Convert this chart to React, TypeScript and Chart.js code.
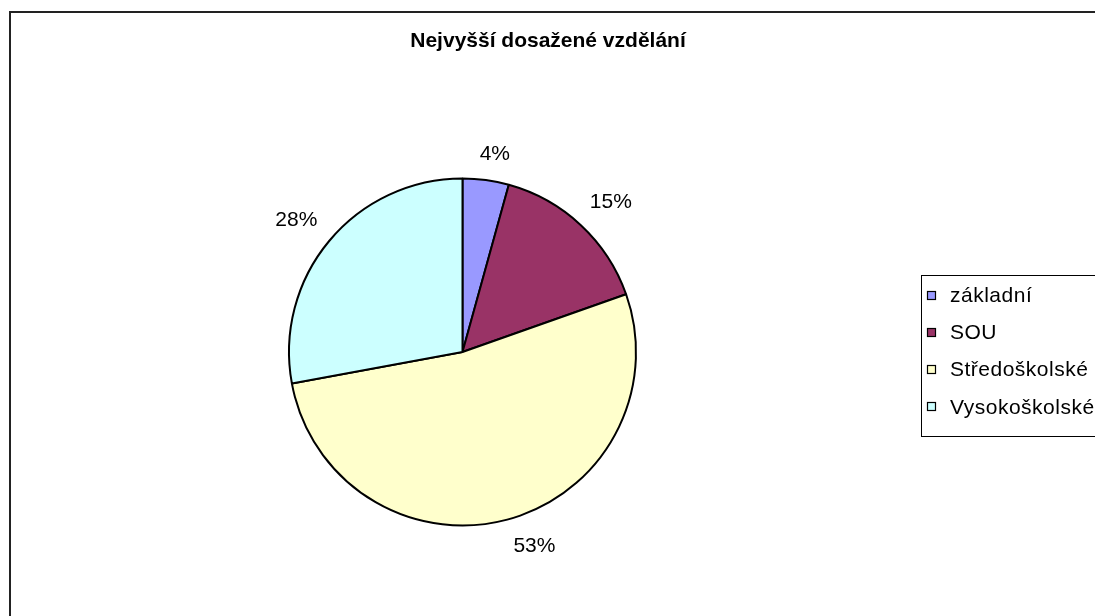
import React, { useEffect, useRef } from "react";
import { Chart, registerables } from "chart.js";

Chart.register(...registerables);

const TITLE = "Nejvyšší dosažené vzdělání";
const CATEGORIES = ["základní", "SOU", "Středoškolské", "Vysokoškolské"];
const VALUES = [4.3, 15.3, 52.5, 27.9];
const COLORS = ["#9999FF", "#993366", "#FFFFCC", "#CCFFFF"];
// small angular nudges (degrees) for label placement, as in the reference
const LABEL_NUDGE = [1.5, 1.5, -5.5, -1.2];

const FONT = "'Liberation Sans', Arial, sans-serif";

const overlay = {
  id: "overlay",
  afterDraw(chart: any) {
    const ctx = chart.ctx as any;
    const W = chart.width;
    const H = chart.height;
    ctx.save();
    // outer frame
    ctx.strokeStyle = "#222";
    ctx.lineWidth = 2;
    ctx.strokeRect(10, 12, W + 20, H + 20);

    // title
    ctx.fillStyle = "#000";
    ctx.font = `bold 21px ${FONT}`;
    ctx.textAlign = "center";
    ctx.textBaseline = "middle";
    ctx.fillText(TITLE, 548, 41);

    // percent labels
    const meta = chart.getDatasetMeta(0);
    const total = VALUES.reduce((a, b) => a + b, 0);
    ctx.font = `21px ${FONT}`;
    meta.data.forEach((arc: any, i: number) => {
      const p = arc.getProps(["x", "y", "startAngle", "endAngle", "outerRadius"], true);
      const mid = (p.startAngle + p.endAngle) / 2 + (LABEL_NUDGE[i] * Math.PI) / 180;
      const txt = Math.round((VALUES[i] / total) * 100) + "%";
      const w = ctx.measureText(txt).width;
      const h = 15;
      const c = Math.cos(mid);
      const s = Math.sin(mid);
      const d = p.outerRadius + 18 + (Math.abs(c) * w) / 2 + (Math.abs(s) * h) / 2;
      ctx.fillText(txt, p.x + c * d, p.y + s * d + 1);
    });

    // legend
    ctx.strokeStyle = "#000";
    ctx.lineWidth = 1;
    ctx.strokeRect(921.5, 275.5, W, 161);
    ctx.textAlign = "left";
    ctx.letterSpacing = "0.5px";
    CATEGORIES.forEach((cat, i) => {
      const cy = 295 + i * 37.3;
      const top = Math.round(cy - 4.5);
      ctx.fillStyle = COLORS[i];
      ctx.fillRect(927, top, 9, 9);
      ctx.strokeStyle = "#000";
      ctx.lineWidth = 1.2;
      ctx.strokeRect(927.5, top + 0.5, 8, 8);
      ctx.fillStyle = "#000";
      ctx.fillText(cat, 950, cy + 1);
    });
    ctx.restore();
  },
};

export default function App() {
  const ref = useRef<HTMLCanvasElement>(null);
  useEffect(() => {
    if (!ref.current) return;
    const chart = new Chart(ref.current, {
      type: "pie",
      data: {
        labels: CATEGORIES,
        datasets: [
          {
            data: VALUES,
            backgroundColor: COLORS,
            borderColor: "#000",
            borderWidth: 2,
          },
        ],
      },
      options: {
        responsive: false,
        animation: false,
        devicePixelRatio: 1,
        layout: { padding: { left: 288, right: 458, top: 177, bottom: 89 } },
        plugins: {
          legend: { display: false },
          title: { display: false },
          tooltip: { enabled: false },
        },
      },
      plugins: [overlay],
    });
    return () => chart.destroy();
  }, []);
  return (
    <div style={{ position: "absolute", left: 0, top: 0, width: 1095, height: 616, background: "#fff" }}>
      <canvas ref={ref} width={1095} height={616} style={{ display: "block" }} />
    </div>
  );
}
